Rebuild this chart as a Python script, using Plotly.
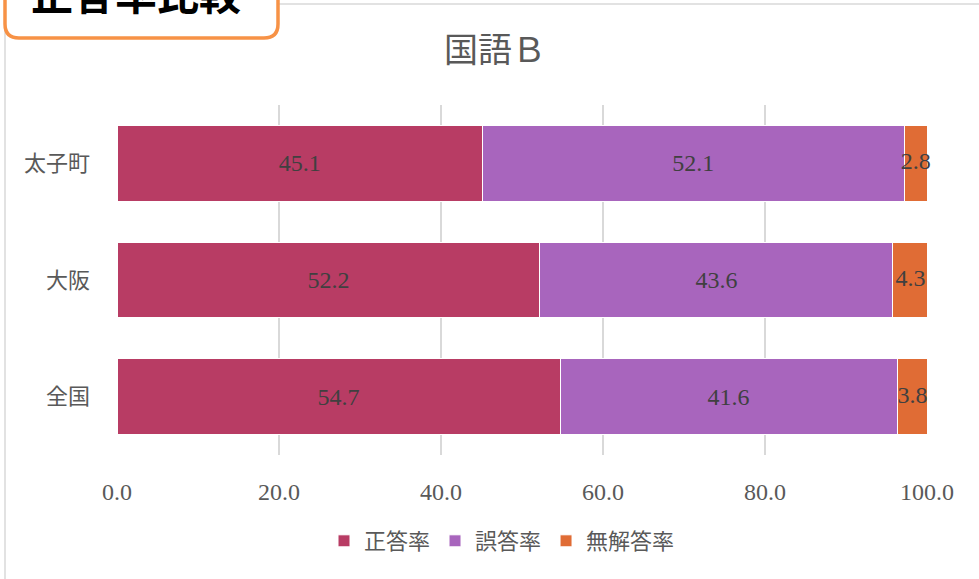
import plotly.graph_objects as go

categories = ["全国", "大阪", "太子町"]
correct = [54.7, 52.2, 45.1]
wrong = [41.6, 43.6, 52.1]
blank = [3.8, 4.3, 2.8]
series_names = ["正答率", "誤答率", "無解答率"]
colors = ["#B83C64", "#A865BD", "#E06C35"]
tick_vals = [0, 20, 40, 60, 80, 100]
tick_text = ["0.0", "20.0", "40.0", "60.0", "80.0", "100.0"]

W, H = 979, 579
L, R, T, B = 117, 52, 105, 124
PW, PH = W - L - R, H - T - B

def px(x):
    return (x - L) / PW

def py(y):
    return (H - B - y) / PH

serif = "Liberation Serif, DejaVu Serif, Noto Sans CJK JP, serif"
label_font = dict(family=serif, size=24, color="#404040")

fig = go.Figure()
all_series = [correct, wrong, blank]
for i, (name, vals, col) in enumerate(zip(series_names, all_series, colors)):
    show_text = i < 2
    fig.add_trace(go.Bar(
        y=categories, x=vals, name=name, orientation="h",
        marker=dict(color=col, line=dict(color="white", width=1)),
        text=[f"{v:.1f}" for v in vals] if show_text else None,
        textposition="inside" if show_text else "none", textangle=0,
        insidetextanchor="middle", constraintext="none",
        textfont=label_font,
    ))

# labels for the narrow last segment (centred on the segment, allowed to overflow)
centers = [c + w + b / 2 for c, w, b in zip(correct, wrong, blank)]
fig.add_trace(go.Scatter(
    x=centers, y=categories, mode="text", text=[f"{v:.1f}" for v in blank],
    textposition="middle center", textfont=label_font, showlegend=False,
    hoverinfo="skip", cliponaxis=False,
))

# outer chart frame
fig.add_shape(type="rect", xref="paper", yref="paper",
              x0=px(5), x1=px(990), y0=py(600), y1=py(4),
              line=dict(color="#D9D9D9", width=1.5), fillcolor="rgba(0,0,0,0)", layer="below")
# header box with rounded corners
x0, x1, y0, y1, rr = 5, 278, -30, 38, 14
path = (f"M {px(x0)},{py(y0)} L {px(x0)},{py(y1 - rr)} Q {px(x0)},{py(y1)} {px(x0 + rr)},{py(y1)} "
        f"L {px(x1 - rr)},{py(y1)} Q {px(x1)},{py(y1)} {px(x1)},{py(y1 - rr)} L {px(x1)},{py(y0)} Z")
fig.add_shape(type="path", xref="paper", yref="paper", path=path,
              line=dict(color="#F79246", width=3.5), fillcolor="white", layer="above")
fig.add_annotation(text="<b>正答率比較</b>", xref="paper", yref="paper",
                   x=px(136), y=py(-8), xanchor="center", yanchor="middle", showarrow=False,
                   font=dict(family="Noto Sans CJK JP", size=42, color="black"))

fig.update_layout(
    width=W, height=H, barmode="stack", bargap=0.35,
    margin=dict(l=L, r=R, t=T, b=B, autoexpand=False),
    paper_bgcolor="white", plot_bgcolor="white",
    title=dict(text="国語Ｂ", xref="container", yref="container", x=495 / W, xanchor="center",
               y=1 - 50 / H, yanchor="middle",
               font=dict(family=serif, size=34, color="#595959")),
    xaxis=dict(range=[0, 100], tickvals=tick_vals, ticktext=tick_text,
               showgrid=True, gridcolor="#D9D9D9", gridwidth=1.5, zeroline=False,
               tickfont=dict(family=serif, size=24, color="#595959"), ticks="", ticklabelstandoff=20,
               fixedrange=True),
    yaxis=dict(tickfont=dict(family=serif, size=22, color="#595959"), ticks="", showgrid=False,
               ticklabelstandoff=26, categoryorder="array", categoryarray=categories),
    legend=dict(orientation="h", x=px(502), xanchor="center", y=py(541), yanchor="middle",
                font=dict(family=serif, size=22, color="#595959"), itemwidth=30, traceorder="normal"),
    uniformtext=dict(mode=False),
)

fig.write_html("out.html", config={"displayModeBar": False},
               post_script="document.body.style.margin='0';")
